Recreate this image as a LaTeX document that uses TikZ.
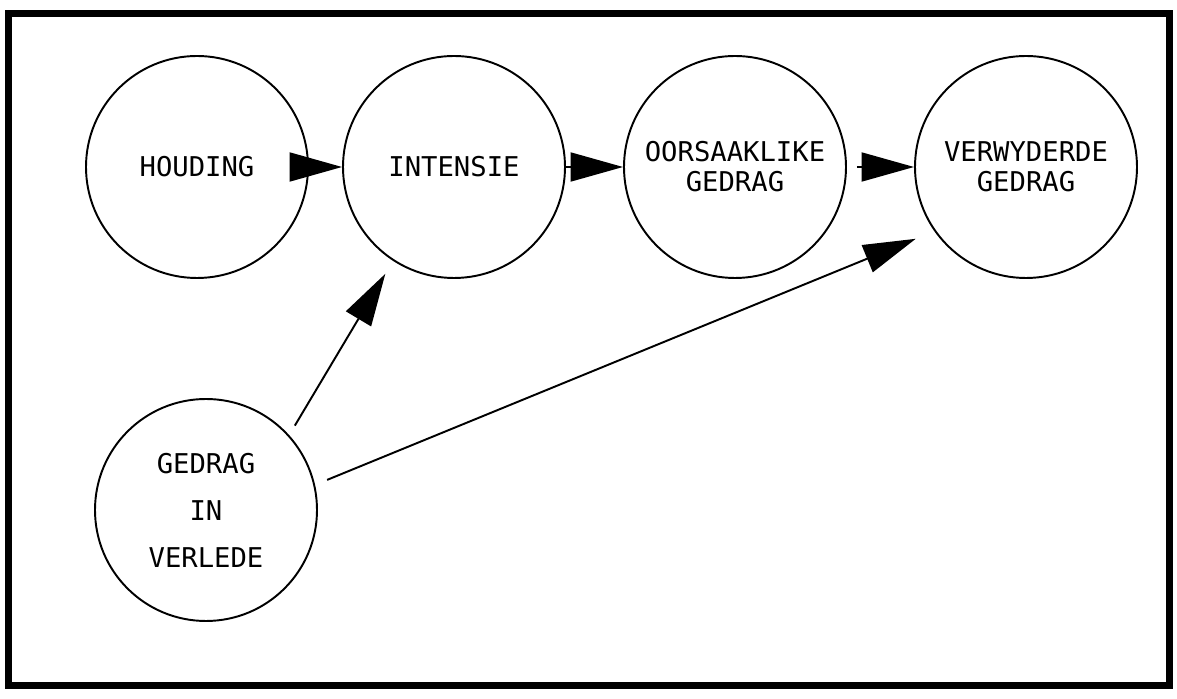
\documentclass[tikz,border=0pt]{standalone}
\usepackage{fontspec}
\setmonofont{DejaVu Sans Mono}
\usetikzlibrary{arrows.meta}
\tikzset{->,>={Triangle[length=1.05cm,width=0.58cm]},node distance=5.5cm,
  bubble/.style={circle,draw,minimum size=4.44cm,inner sep=0pt,align=center,
    font=\ttfamily\fontsize{15.5}{17}\selectfont}}

\begin{document}
\begin{tikzpicture}[line width=1.1pt]
              \useasboundingbox (0,0) rectangle (23.54,-13.98);
              \draw[-,line width=0.14cm] (0.18,-0.28) rectangle (23.38,-13.72);

              \node[bubble] (houding) at (3.94,-3.34) {HOUDING};
              \node[bubble] (intensie) [right of=houding, node distance=5.14cm] {INTENSIE};
              \node[bubble] (oorsaak) [right of=intensie, node distance=5.62cm] {OORSAAKLIKE\\GEDRAG};
              \node[bubble] (verwyder) [right of=oorsaak, node distance=5.82cm] {VERWYDERDE\\GEDRAG};
              \node[bubble, font=\ttfamily\fontsize{15.5}{26.8}\selectfont] (verlede)
                [below of=houding, node distance=6.86cm, xshift=0.18cm] {GEDRAG\\IN\\VERLEDE};

              \path
              (houding) edge (intensie)
              (intensie) edge (oorsaak)
              (oorsaak) edge [shorten <=0.2cm] (verwyder)
              (verlede.42) edge [shorten <=0.22cm, shorten >=0.3cm] (intensie.237)
              (verlede.13) edge [shorten <=0.26cm, shorten >=0.4cm] (verwyder.215)
              ;
            \end{tikzpicture}
\end{document}
